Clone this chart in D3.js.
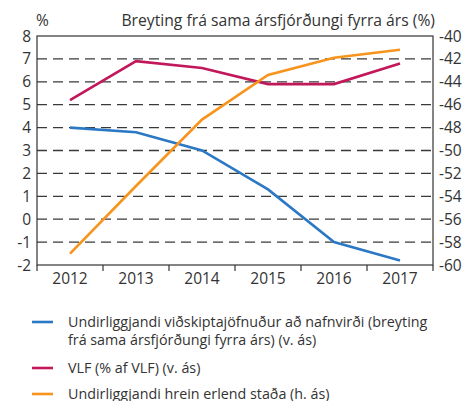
<!DOCTYPE html>
<html>
<head>
<meta charset="utf-8">
<script src="https://cdn.jsdelivr.net/npm/d3@7"></script>
<style>
  body { margin: 0; background: #fff; }
  svg text { font-family: "Open Sans", sans-serif; fill: #333; }
</style>
</head>
<body>
<div id="chart"></div>
<script>
// chart data
const years = ["2012", "2013", "2014", "2015", "2016", "2017"];
const currentAccount = [4.0, 3.8, 3.0, 1.3, -1.0, -1.8];   // left axis
const gdpShare = [5.2, 6.9, 6.6, 5.9, 5.9, 6.8];           // left axis
const netPosition = [-59.0, -53.1, -47.3, -43.4, -41.9, -41.2]; // right axis
const leftTicks = [-2, -1, 0, 1, 2, 3, 4, 5, 6, 7, 8];
const rightTicks = [-60, -58, -56, -54, -52, -50, -48, -46, -44, -42, -40];

const legendItems = [
  { color: "#2b78c5", lines: ["Undirliggjandi viðskiptajöfnuður að nafnvirði (breyting", "frá sama ársfjórðungi fyrra árs) (v. ás)"] },
  { color: "#c2185b", lines: ["VLF (% af VLF) (v. ás)"] },
  { color: "#f7941d", lines: ["Undirliggjandi hrein erlend staða (h. ás)"] }
];

const width = 476, height = 401;
const plot = { left: 37, right: 433, top: 36, bottom: 265 };

const svg = d3.select("#chart").append("svg")
  .attr("width", width)
  .attr("height", height);

svg.append("rect").attr("width", width).attr("height", height).attr("fill", "#fff");

const x = d3.scaleBand().domain(years).range([plot.left, plot.right]);
const yL = d3.scaleLinear().domain([-2, 8]).range([plot.bottom, plot.top]);
const yR = d3.scaleLinear().domain([-60, -40]).range([plot.bottom, plot.top]);
const cx = (d) => x(d) + x.bandwidth() / 2;

// dashed gridlines
svg.append("g")
  .selectAll("line")
  .data(leftTicks.filter((t) => t > -2 && t < 8))
  .enter()
  .append("line")
  .attr("x1", plot.left)
  .attr("x2", plot.right)
  .attr("y1", (d) => yL(d))
  .attr("y2", (d) => yL(d))
  .attr("stroke", "#3a3a3a")
  .attr("stroke-width", 1.3)
  .attr("stroke-dasharray", "10,6");

// frame
svg.append("rect")
  .attr("x", plot.left)
  .attr("y", plot.top)
  .attr("width", plot.right - plot.left)
  .attr("height", plot.bottom - plot.top)
  .attr("fill", "none")
  .attr("stroke", "#333")
  .attr("stroke-width", 1.2);

// bottom ticks at band edges
const edges = years.map((d) => x(d)).concat([plot.right]);
svg.append("g")
  .selectAll("line")
  .data(edges)
  .enter()
  .append("line")
  .attr("x1", (d) => d)
  .attr("x2", (d) => d)
  .attr("y1", plot.bottom)
  .attr("y2", plot.bottom + 6)
  .attr("stroke", "#333")
  .attr("stroke-width", 1.2);

// year labels
svg.append("g")
  .selectAll("text")
  .data(years)
  .enter()
  .append("text")
  .attr("x", cx)
  .attr("y", plot.bottom + 19)
  .attr("text-anchor", "middle")
  .attr("font-size", 15.5)
  .text((d) => d);

// left axis labels
svg.append("g")
  .selectAll("text")
  .data(leftTicks)
  .enter()
  .append("text")
  .attr("x", plot.left - 6)
  .attr("y", (d) => yL(d) + 5.5)
  .attr("text-anchor", "end")
  .attr("font-size", 15.5)
  .text((d) => d);

// right axis labels
svg.append("g")
  .selectAll("text")
  .data(rightTicks)
  .enter()
  .append("text")
  .attr("x", plot.right + 6)
  .attr("y", (d) => yR(d) + 5.5)
  .attr("text-anchor", "start")
  .attr("font-size", 15.5)
  .text((d) => d);

// axis titles
svg.append("text").attr("x", 36).attr("y", 26).attr("font-size", 15.5).text("%");
svg.append("text").attr("x", 435).attr("y", 26).attr("text-anchor", "end")
  .attr("font-size", 15.7).text("Breyting frá sama ársfjórðungi fyrra árs (%)");

// series lines
const lineL = d3.line().x((d, i) => cx(years[i])).y((d) => yL(d));
const lineR = d3.line().x((d, i) => cx(years[i])).y((d) => yR(d));

svg.append("path").datum(currentAccount).attr("d", lineL)
  .attr("fill", "none").attr("stroke", legendItems[0].color).attr("stroke-width", 2.6);
svg.append("path").datum(gdpShare).attr("d", lineL)
  .attr("fill", "none").attr("stroke", legendItems[1].color).attr("stroke-width", 2.6);
svg.append("path").datum(netPosition).attr("d", lineR)
  .attr("fill", "none").attr("stroke", legendItems[2].color).attr("stroke-width", 2.6);

// legend
const legendRows = [322, 368, 394];
legendItems.forEach((item, i) => {
  const g = svg.append("g").attr("transform", `translate(0, ${legendRows[i]})`);
  g.append("line")
    .attr("x1", 32).attr("x2", 53)
    .attr("y1", 0).attr("y2", 0)
    .attr("stroke", item.color)
    .attr("stroke-width", 2.6);
  item.lines.forEach((t, j) => {
    g.append("text")
      .attr("x", 68)
      .attr("y", 5 + j * 18)
      .attr("font-size", 14.3)
      .text(t);
  });
});
</script>
</body>
</html>
